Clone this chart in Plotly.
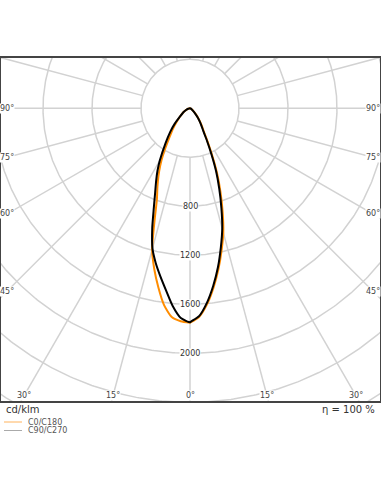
import numpy as np
import plotly.graph_objects as go

# ---- data (cd/klm) ----
gamma = [0, 2.5, 5, 7.5, 10, 12.5, 15, 17.5, 20, 22.5, 25, 27.5, 30, 35, 40, 45, 50, 60, 70, 80, 90]
c0 = [1750, 1705, 1605, 1475, 1335, 1190, 1050, 885, 728, 582, 435, 322, 238, 160, 105, 62, 38, 16, 5, 0, 0]
c180 = [1750, 1740, 1711, 1621, 1486, 1346, 1196, 963, 790, 695, 609, 526, 442, 296, 215, 150, 110, 60, 30, 10, 0]
c90 = [1746, 1698, 1592, 1459, 1316, 1163, 1017, 852, 698, 557, 414, 303, 223, 150, 100, 58, 35, 15, 5, 0, 0]
c270 = [1748, 1714, 1620, 1499, 1393, 1293, 1184, 1025, 863, 743, 654, 575, 493, 349, 251, 174, 110, 60, 30, 10, 0]

radial_ticks = [400, 800, 1200, 1600, 2000, 2400, 2800, 3200]
radial_labels = [800, 1200, 1600, 2000]
spoke_angles = list(range(-180, 181, 15))
angle_labels = [90, 75, 60, 45, 30, 15, 0]

W, H = 381, 492
top, bottom = 57, 402
cx, cy = 190, 108.3
s = 400 / 49.0  # cd per pixel

xr = [-cx * s, (W - cx) * s]
yr = [-(bottom - cy) * s, (cy - top) * s]

fig = go.Figure()

# grid circles
th = np.linspace(0, 2 * np.pi, 721)
gx, gy = [], []
for r in radial_ticks:
    gx += list(r * np.sin(th)) + [None]
    gy += list(r * np.cos(th)) + [None]
fig.add_trace(go.Scatter(x=gx, y=gy, mode="lines", line=dict(color="#d2d2d2", width=1.5),
                         hoverinfo="skip", showlegend=False))
# spokes
sx, sy = [], []
for a in spoke_angles:
    t = np.radians(a)
    sx += [400 * np.sin(t), 4000 * np.sin(t), None]
    sy += [-400 * np.cos(t), -4000 * np.cos(t), None]
fig.add_trace(go.Scatter(x=sx, y=sy, mode="lines", line=dict(color="#d2d2d2", width=1.5),
                         hoverinfo="skip", showlegend=False))


def curve(right, left):
    g = np.radians(gamma)
    xs = list(-np.array(left)[::-1] * np.sin(g[::-1])) + list(np.array(right) * np.sin(g))
    ys = list(-np.array(left)[::-1] * np.cos(g[::-1])) + list(-np.array(right) * np.cos(g))
    return xs, ys


ox, oy = curve(c0, c180)
fig.add_trace(go.Scatter(x=ox, y=oy, mode="lines", name="C0/C180",
                         line=dict(color="#ff8c00", width=2, shape="spline", smoothing=0.6),
                         showlegend=False))
bx, by = curve(c90, c270)
fig.add_trace(go.Scatter(x=bx, y=by, mode="lines", name="C90/C270",
                         line=dict(color="#000000", width=2, shape="spline", smoothing=0.6),
                         showlegend=False))

font = "DejaVu Sans"
ann = []
for r in radial_labels:
    ann.append(dict(x=0, y=-r, xref="x", yref="y", text=str(r), showarrow=False,
                    font=dict(family=font, size=8, color="#333"), bgcolor="white", borderpad=0))

xin = (cx - 7) * s
yin = (bottom - 7 - cy) * s
for a in angle_labels:
    t = np.radians(a)
    cand = []
    if np.sin(t) > 1e-9:
        cand.append(xin / np.sin(t))
    if np.cos(t) > 1e-9:
        cand.append(yin / np.cos(t))
    d = min(cand)
    for sign in ([1, -1] if a != 0 else [1]):
        ann.append(dict(x=sign * d * np.sin(t), y=-d * np.cos(t), xref="x", yref="y",
                        text=f"{a}°", showarrow=False,
                        font=dict(family=font, size=8, color="#444"), bgcolor="white", borderpad=0))


def py2paper(py):
    return (bottom - py) / (bottom - top)


ann.append(dict(x=4 / W, y=py2paper(409), xref="paper", yref="paper", text="cd/klm",
                xanchor="left", yanchor="middle", showarrow=False,
                font=dict(family=font, size=10, color="#333")))
ann.append(dict(x=377 / W, y=py2paper(409), xref="paper", yref="paper", text="η = 100 %",
                xanchor="right", yanchor="middle", showarrow=False,
                font=dict(family=font, size=10, color="#333")))
ann.append(dict(x=26 / W, y=py2paper(422), xref="paper", yref="paper", text="C0/C180",
                xanchor="left", yanchor="middle", showarrow=False,
                font=dict(family=font, size=8, color="#555")))
ann.append(dict(x=26 / W, y=py2paper(430.5), xref="paper", yref="paper", text="C90/C270",
                xanchor="left", yanchor="middle", showarrow=False,
                font=dict(family=font, size=8, color="#555")))

shapes = [
    dict(type="rect", xref="paper", yref="paper", x0=0, x1=1, y0=0, y1=1,
         line=dict(color="#444", width=2), fillcolor="rgba(0,0,0,0)"),
    dict(type="line", xref="paper", yref="paper", x0=4 / W, x1=22 / W,
         y0=py2paper(422), y1=py2paper(422), line=dict(color="#ffb35c", width=1)),
    dict(type="line", xref="paper", yref="paper", x0=4 / W, x1=22 / W,
         y0=py2paper(430.5), y1=py2paper(430.5), line=dict(color="#aaaaaa", width=1)),
]

fig.update_layout(
    width=W, height=H,
    margin=dict(l=0, r=0, t=top, b=H - bottom, pad=0),
    paper_bgcolor="white", plot_bgcolor="white",
    xaxis=dict(range=xr, visible=False, fixedrange=True),
    yaxis=dict(range=yr, visible=False, fixedrange=True),
    annotations=ann, shapes=shapes, showlegend=False,
)

fig.write_html(
    "out.html",
    config={"displayModeBar": False, "staticPlot": True},
    post_script="document.body.style.margin='0';document.body.style.overflow='hidden';",
)
